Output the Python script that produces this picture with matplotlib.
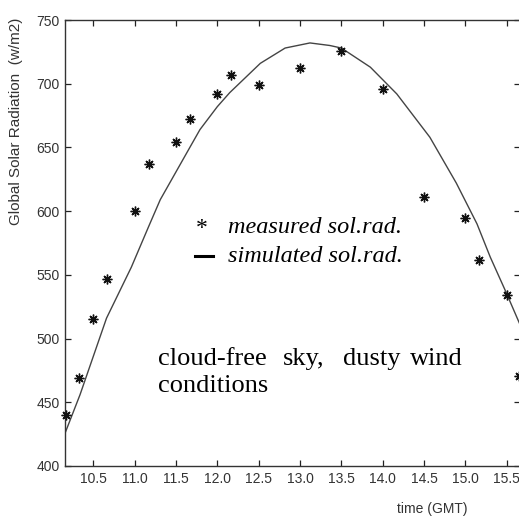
import matplotlib
matplotlib.use("Agg")
import matplotlib.pyplot as plt

# ---- data ----
meas_time = [10.17, 10.33, 10.5, 10.67, 11.0, 11.17, 11.5, 11.67, 12.0, 12.17,
             12.5, 13.0, 13.5, 14.0, 14.5, 15.0, 15.17, 15.5, 15.65]
meas_rad = [440, 469, 515, 547, 600, 637, 654, 672, 692, 707,
            699, 712, 726, 696, 611, 595, 562, 534, 471]

sim_time = [10.16, 10.34, 10.66, 10.96, 11.17, 11.31, 11.65, 11.79, 12.0, 12.15,
            12.52, 12.82, 13.12, 13.36, 13.5, 13.85, 14.17, 14.57, 14.89, 15.14,
            15.3, 15.48, 15.66]
sim_rad = [426, 456, 516, 556, 588, 609, 648, 664, 682, 693,
           716, 728, 732, 730, 728, 713, 692, 658, 622, 590,
           564, 538, 511]

xticks = [10.5, 11.0, 11.5, 12.0, 12.5, 13.0, 13.5, 14.0, 14.5, 15.0, 15.5]
yticks = [400, 450, 500, 550, 600, 650, 700, 750]

sans = "Liberation Sans"
serif = "Liberation Serif"
tick_fs = 10

W, H = 519, 517
fig = plt.figure(figsize=(W / 100, H / 100), dpi=100)

def fx(x):
    return x / W

def fy(y):
    return 1 - y / H

left, right, top, bottom = 65, 520, 20, 466
ax = fig.add_axes([fx(left), fy(bottom), (right - left) / W, (bottom - top) / H])

ax.plot(sim_time, sim_rad, color="#444444", lw=1.0, zorder=2)
ax.plot(meas_time, meas_rad, linestyle="none", marker=(8, 2, 0), markersize=7,
        markeredgewidth=1.0, color="#111111", zorder=3, clip_on=False)

ax.set_xlim(10.158, 15.66)
ax.set_ylim(400, 750)
ax.set_xticks(xticks)
ax.set_yticks(yticks)
ax.set_xticklabels([f"{t:.1f}" for t in xticks])
ax.set_yticklabels([str(t) for t in yticks])
ax.tick_params(direction="in", length=4, width=0.9, top=True, right=True,
               labelsize=tick_fs, colors="#222222", pad=4)
for lab in ax.get_xticklabels() + ax.get_yticklabels():
    lab.set_family(sans)
    lab.set_color("#333333")
for s in ax.spines.values():
    s.set_color("#333333")
    s.set_linewidth(1.0)

# axis labels
fig.text(fx(16), fy(121), "Global Solar Radiation  (w/m2)", rotation=90,
         ha="center", va="center", family=sans, fontsize=11, color="#333333")
fig.text(fx(432), fy(509), "time (GMT)", ha="center", va="center",
         family=sans, fontsize=10, color="#333333")

# legend-like annotations
fig.text(fx(202), fy(234), "*", ha="center", va="baseline", family=serif,
         fontsize=17, color="black")
fig.text(fx(228), fy(233), "measured sol.rad.", ha="left", va="baseline",
         family=serif, style="italic", fontsize=17.5, color="black")
fig.add_artist(plt.Line2D([fx(195), fx(213)], [fy(256), fy(256)],
                          color="black", lw=2.2, transform=fig.transFigure))
fig.text(fx(228), fy(262), "simulated sol.rad.", ha="left", va="baseline",
         family=serif, style="italic", fontsize=17.5, color="black")

# justified description text
words = [("cloud-free", 158), ("sky,", 283), ("dusty", 343), ("wind", 410)]
for w, x in words:
    fig.text(fx(x), fy(365), w, ha="left", va="baseline", family=serif,
             fontsize=19, color="black")
fig.text(fx(158), fy(392), "conditions", ha="left", va="baseline", family=serif,
         fontsize=19, color="black")

fig.savefig("out.png", dpi=100)
